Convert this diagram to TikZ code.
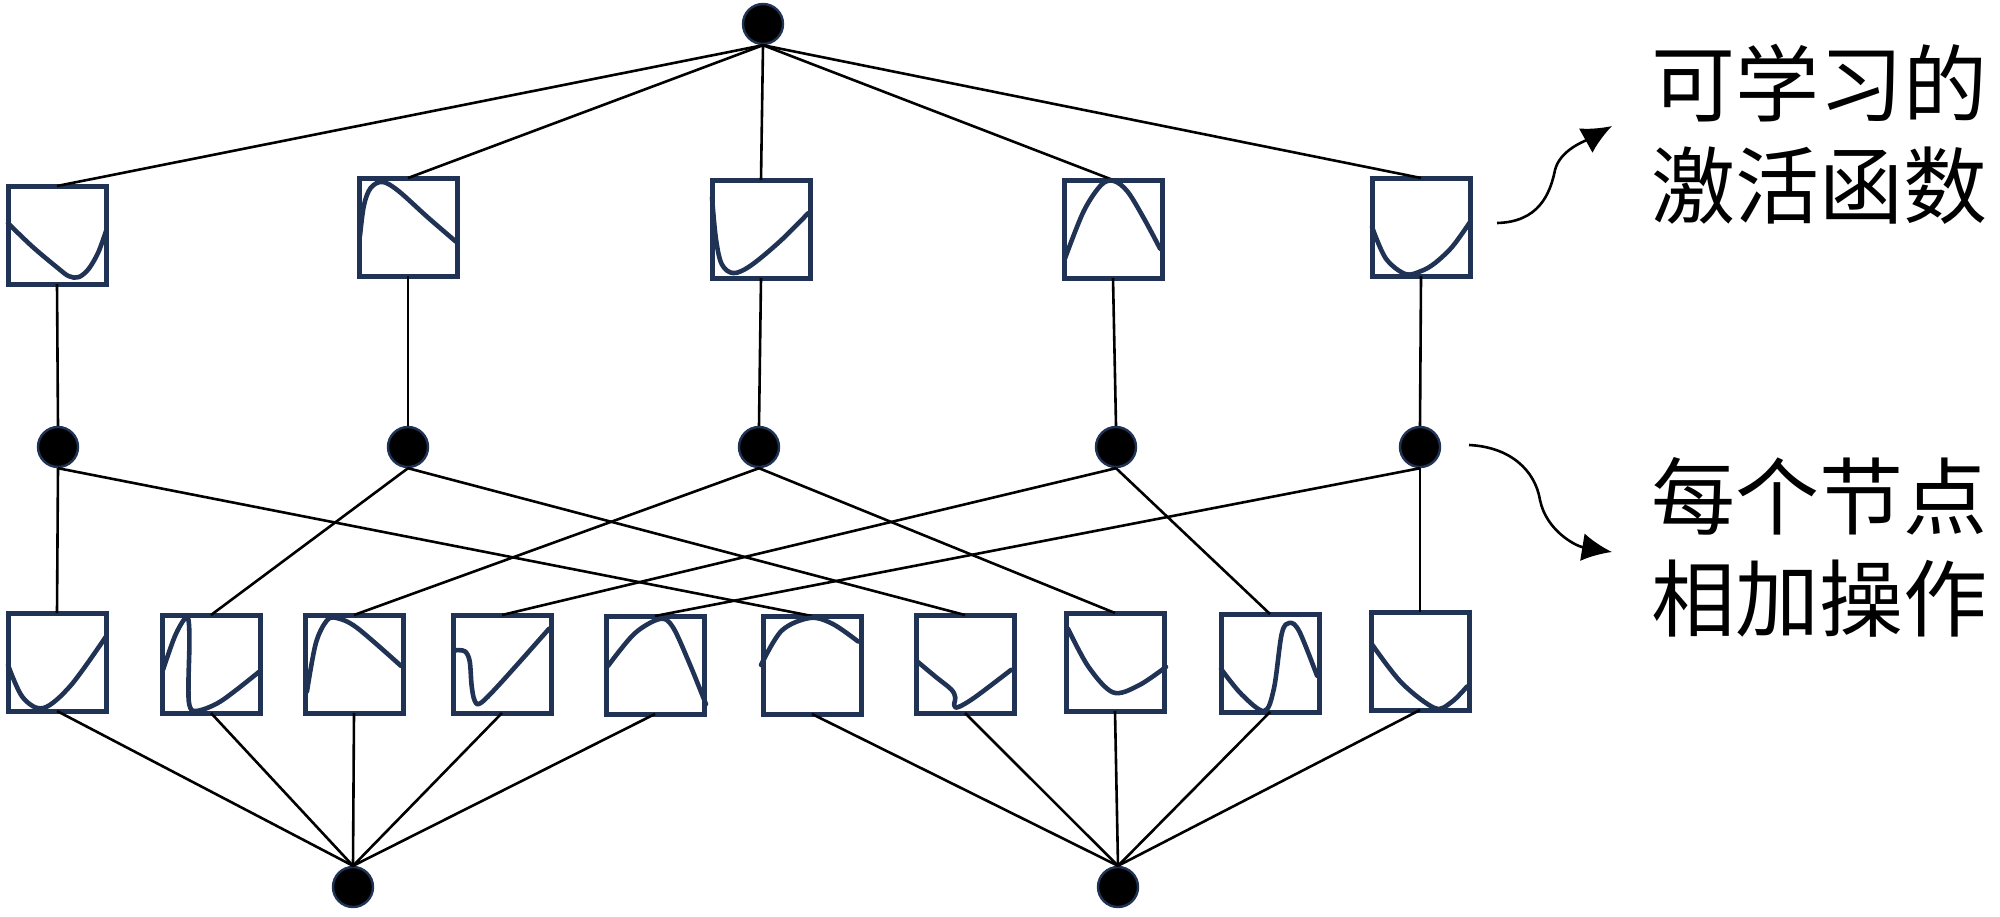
\documentclass[tikz,border=0pt]{standalone}
\usepackage{fontspec}
\newfontfamily\cjk{Noto Sans CJK SC}
\usetikzlibrary{arrows.meta}
\definecolor{navy}{RGB}{32,51,84}
\newcommand\actcurve[2]{\begin{scope}[shift={(#1.south west)},x=49pt,y=49pt]\draw[fcurve] plot[smooth,tension=0.55] coordinates {#2};\end{scope}}
\begin{document}
\begin{tikzpicture}[x=0.5pt,y=-0.5pt,
  dot/.style={circle,fill=black,draw=navy,line width=1.2pt,minimum size=20pt,inner sep=0pt},
  fbox/.style={rectangle,draw=navy,line width=2.5pt,minimum size=49pt,inner sep=0pt,outer sep=0pt},
  conn/.style={draw=black,line width=1.3pt},
  fcurve/.style={draw=navy,line width=2.3pt,line cap=round,line join=round},
  callout/.style={draw=black,line width=1.3pt,-{Latex[length=15pt,width=14pt]}},
  lbl/.style={font=\cjk\fontsize{42}{51}\selectfont,align=left,anchor=west,inner sep=0pt}]
\useasboundingbox (0,0) rectangle (2000,916);
% nodes
\node[dot] (T) at (763,24) {};
\node[fbox] (B1) at (57,235) {};
\node[fbox] (B2) at (408,227) {};
\node[fbox] (B3) at (761,229) {};
\node[fbox] (B4) at (1113,229) {};
\node[fbox] (B5) at (1421,227) {};
\node[dot] (M1) at (58,447) {};
\node[dot] (M2) at (408,447) {};
\node[dot] (M3) at (759,447) {};
\node[dot] (M4) at (1116,447) {};
\node[dot] (M5) at (1420,447) {};
\node[fbox] (C1) at (57,662) {};
\node[fbox] (C2) at (211,664) {};
\node[fbox] (C3) at (354,664) {};
\node[fbox] (C4) at (502,664) {};
\node[fbox] (C5) at (655,665) {};
\node[fbox] (C6) at (812,665) {};
\node[fbox] (C7) at (965,664) {};
\node[fbox] (C8) at (1115,662) {};
\node[fbox] (C9) at (1270,663) {};
\node[fbox] (C10) at (1420,661) {};
\node[dot] (N1) at (353,887) {};
\node[dot] (N2) at (1118,887) {};
% connectors
\foreach \b in {B1,B2,B3,B4,B5} \draw[conn] (T.south) -- (\b.north);
\foreach \i in {1,...,5} \draw[conn] (B\i.south) -- (M\i.north);
\foreach \i/\j in {1/1,1/6,2/2,2/7,3/3,3/8,4/4,4/9,5/5,5/10} \draw[conn] (M\i.south) -- (C\j.north);
\foreach \j in {1,...,5} \draw[conn] (C\j.south) -- (N1.north);
\foreach \j in {6,...,10} \draw[conn] (C\j.south) -- (N2.north);
% activation curves, top row
\actcurve{B1}{(0,0.62) (0.25,0.38) (0.5,0.17) (0.62,0.08) (0.72,0.07) (0.82,0.15) (0.92,0.32) (1,0.54)}
\actcurve{B2}{(0.01,0.41) (0.05,0.72) (0.12,0.9) (0.24,0.96) (0.4,0.87) (0.7,0.6) (0.99,0.35)}
\actcurve{B3}{(0,0.82) (0.04,0.4) (0.1,0.14) (0.22,0.05) (0.4,0.13) (0.7,0.38) (0.98,0.66)}
\actcurve{B4}{(0.01,0.2) (0.2,0.68) (0.38,0.95) (0.51,0.99) (0.65,0.88) (0.82,0.6) (0.98,0.3)}
\actcurve{B5}{(0,0.5) (0.14,0.18) (0.34,0.02) (0.5,0.05) (0.64,0.13) (0.82,0.3) (1,0.55)}
% activation curves, bottom row
\actcurve{C1}{(0,0.47) (0.15,0.14) (0.36,0.03) (0.64,0.26) (1,0.76)}
\actcurve{C2}{(0.01,0.44) (0.13,0.78) (0.23,0.96) (0.27,0.95) (0.28,0.72) (0.27,0.3) (0.28,0.08) (0.35,0.02) (0.6,0.12) (0.99,0.42)}
\actcurve{C3}{(0.02,0.22) (0.11,0.71) (0.22,0.94) (0.32,0.97) (0.53,0.87) (0.98,0.48)}
\actcurve{C4}{(0.02,0.64) (0.12,0.63) (0.17,0.53) (0.19,0.28) (0.22,0.13) (0.28,0.1) (0.49,0.31) (0.98,0.86)}
\actcurve{C5}{(0.02,0.49) (0.29,0.82) (0.55,0.97) (0.68,0.89) (0.85,0.52) (1.02,0.1)}
\actcurve{C6}{(-0.02,0.5) (0.19,0.85) (0.48,0.98) (0.71,0.92) (0.97,0.74)}
\actcurve{C7}{(0.02,0.52) (0.2,0.37) (0.36,0.24) (0.4,0.16) (0.39,0.08) (0.43,0.06) (0.6,0.16) (0.97,0.44)}
\actcurve{C8}{(0.02,0.84) (0.23,0.45) (0.48,0.19) (0.74,0.26) (1.02,0.45)}
\actcurve{C9}{(0,0.44) (0.21,0.18) (0.44,0.01) (0.54,0.24) (0.62,0.8) (0.7,0.91) (0.8,0.82) (0.98,0.37)}
\actcurve{C10}{(0.01,0.67) (0.31,0.28) (0.65,0.02) (0.82,0.08) (0.98,0.24)}
% labels
\node[lbl] (L1) at (1651,134) {可学习的\\激活函数};
\node[lbl] (L2) at (1651,547) {每个节点\\相加操作};
\coordinate (a1s) at (1497,223);
\coordinate (a1e) at (1612,126);
\coordinate (a2s) at (1469,445);
\coordinate (a2e) at (1612,552);
\draw[callout] (a1s) .. controls (1538,222) and (1550,195) .. (1555,170) .. controls (1560,150) and (1585,141) .. (a1e);
\draw[callout] (a2s) .. controls (1510,447) and (1535,470) .. (1540,500) .. controls (1546,530) and (1575,546) .. (a2e);
\end{tikzpicture}
\end{document}
